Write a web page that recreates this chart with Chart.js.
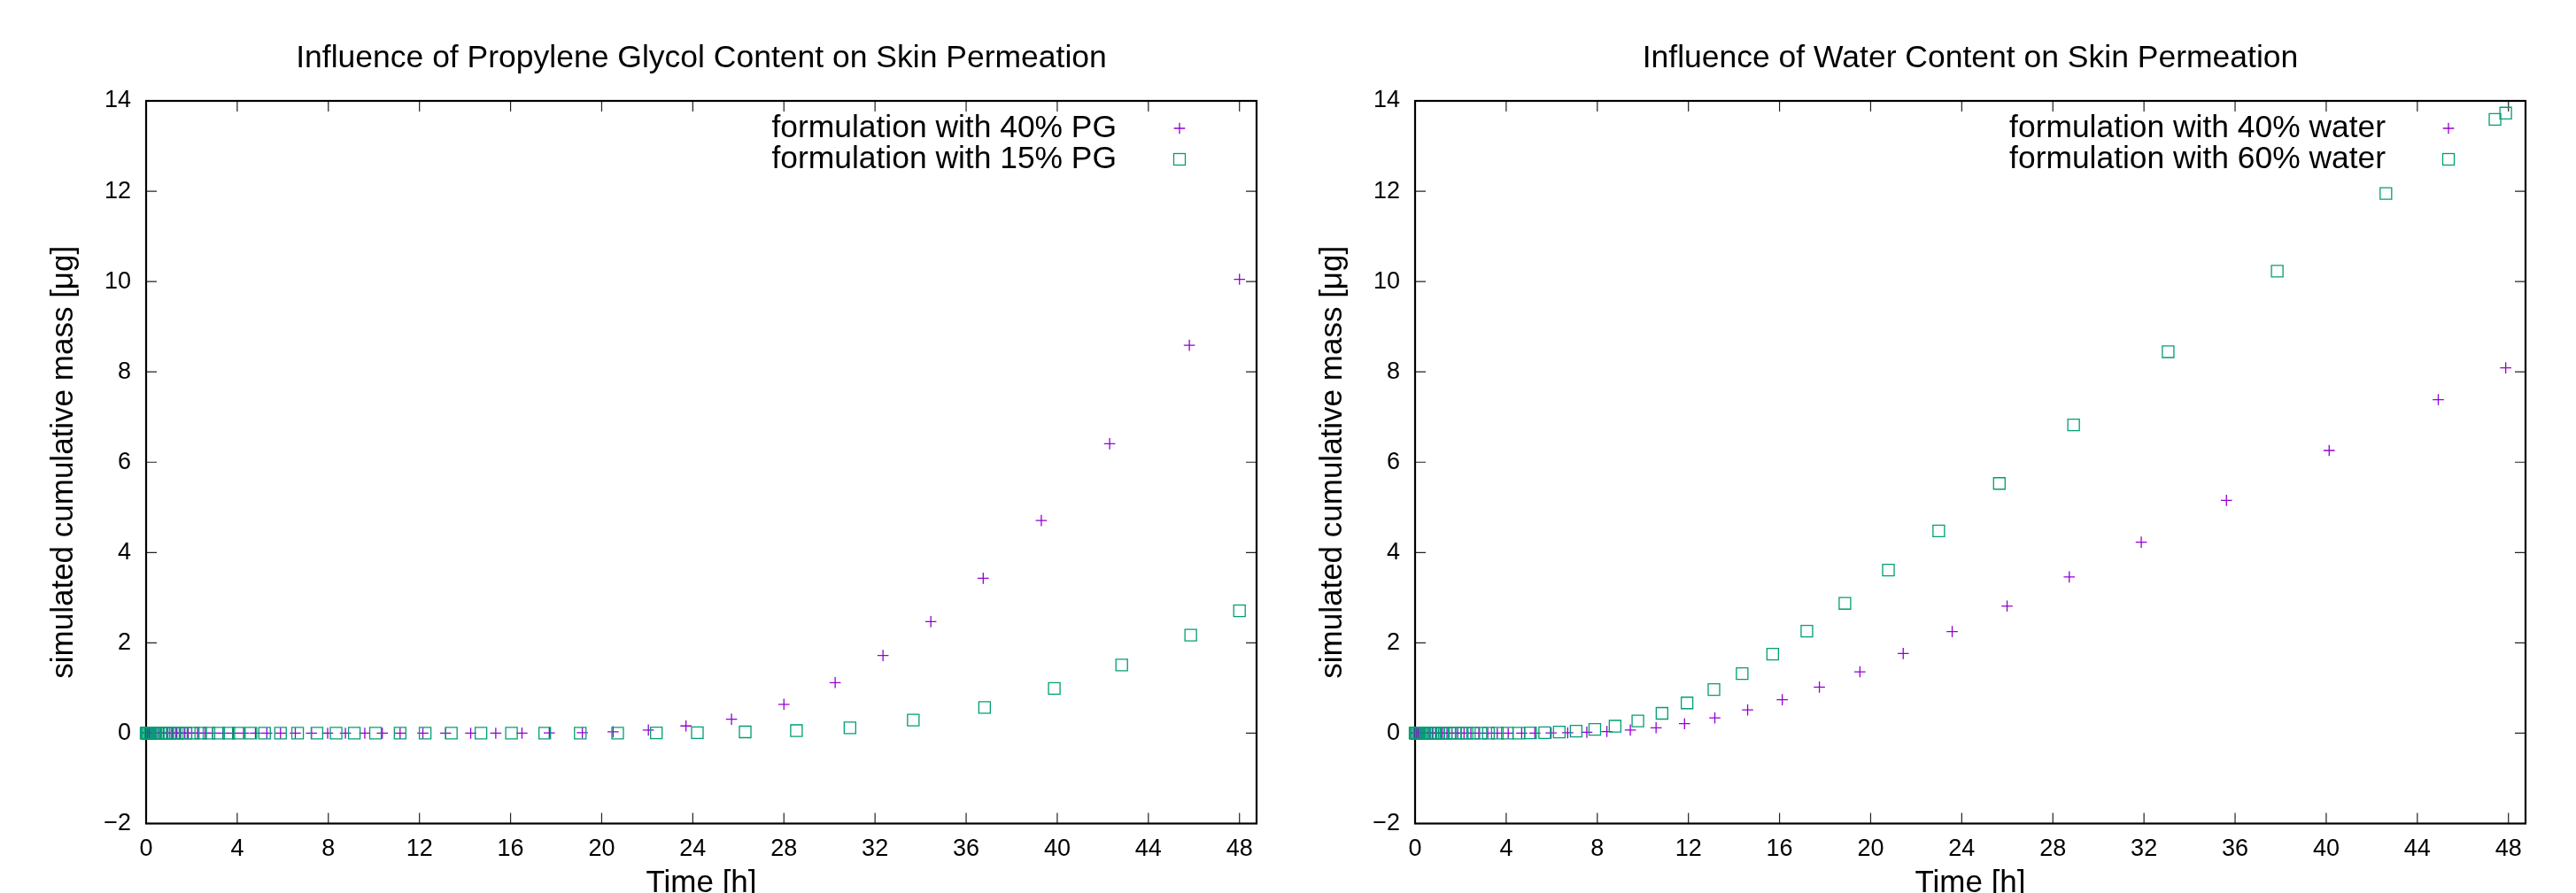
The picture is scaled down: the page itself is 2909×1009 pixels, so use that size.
<!DOCTYPE html>
<html>
<head>
<meta charset="utf-8">
<title>Skin permeation</title>
<script src="https://cdn.jsdelivr.net/npm/chart.js@4.4.0/dist/chart.umd.min.js"></script>
<style>
    html, body { margin: 0; padding: 0; background: #fff; overflow: hidden; width: 2909px; height: 1009px; }
    canvas { position: absolute; top: 0; }
    #chartPG { left: 0; }
    #chartW { left: 1433px; }
</style>
</head>
<body>
<canvas id="chartPG" width="1454" height="1060"></canvas>
<canvas id="chartW" width="1454" height="1060"></canvas>
<script>
// axis ticks
const xTickValues = [0, 4, 8, 12, 16, 20, 24, 28, 32, 36, 40, 44, 48];
const yTickValues = [-2, 0, 2, 4, 6, 8, 10, 12, 14];

// left plot: propylene glycol
const timePG40 = [0, 0.02, 0.05, 0.09, 0.14, 0.2, 0.27, 0.35, 0.44, 0.54, 0.65, 0.77, 0.9, 1.04, 1.19, 1.35, 1.52, 1.7, 1.85,
    2.0, 2.26, 2.59, 2.92, 3.37, 3.82, 4.28, 4.8, 5.3, 5.9, 6.55, 7.26, 7.97, 8.75, 9.6, 10.37, 11.15, 12.15, 13.15, 14.25, 15.35, 16.5, 17.7,
    19.15, 20.5, 22.05, 23.7, 25.7, 28.0, 30.25, 32.35, 34.45, 36.75, 39.3, 42.3, 45.8, 48.0];
const massPG40 = [0, 0, 0, 0, 0, 0, 0, 0, 0, 0, 0, 0, 0, 0, 0, 0, 0, 0, 0,
    0, 0, 0, 0, 0, 0, 0, 0, 0, 0, 0, 0, 0, 0, 0, 0, 0, 0, 0, 0, 0, 0.002, 0.005,
    0.01, 0.03, 0.07, 0.16, 0.31, 0.64, 1.12, 1.72, 2.47, 3.43, 4.71, 6.41, 8.59, 10.05];

const timePG15 = [0, 0.02, 0.05, 0.09, 0.14, 0.2, 0.27, 0.35, 0.44, 0.54, 0.65, 0.77, 0.9, 1.04, 1.2, 1.37, 1.55, 1.75,
    2.07, 2.4, 2.76, 3.18, 3.63, 4.05, 4.6, 5.2, 5.9, 6.65, 7.5, 8.34, 9.14, 10.07, 11.15, 12.25, 13.4, 14.7, 16.04, 17.5, 19.06,
    20.7, 22.4, 24.2, 26.3, 28.55, 30.9, 33.68, 36.81, 39.87, 42.83, 45.86, 48.0];
const massPG15 = [0, 0, 0, 0, 0, 0, 0, 0, 0, 0, 0, 0, 0, 0, 0, 0, 0, 0,
    0, 0, 0, 0, 0, 0, 0, 0, 0, 0, 0, 0, 0, 0, 0, 0, 0, 0, 0, 0, 0,
    0.002, 0.005, 0.012, 0.028, 0.057, 0.12, 0.29, 0.57, 0.99, 1.51, 2.17, 2.71];

// right plot: water
const timeW40 = [0, 0.02, 0.05, 0.09, 0.14, 0.2, 0.27, 0.35, 0.44, 0.54, 0.65, 0.77, 0.9, 1.04, 1.2, 1.4, 1.62,
    1.87, 2.15, 2.45, 2.8, 3.19, 3.61, 4.09, 4.68,
    5.26, 5.97, 6.7, 7.54, 8.42, 9.45, 10.58, 11.83, 13.16, 14.6, 16.12, 17.75, 19.53, 21.43, 23.58, 25.99, 28.72, 31.88, 35.62, 40.13, 44.92, 47.88];
const massW40 = [0, 0, 0, 0, 0, 0, 0, 0, 0, 0, 0, 0, 0, 0, 0, 0, 0,
    0, 0, 0, 0, 0, 0, 0, 0,
    0.002, 0.005, 0.01, 0.02, 0.037, 0.07, 0.12, 0.21, 0.34, 0.515, 0.74, 1.02, 1.36, 1.765, 2.25, 2.815, 3.46, 4.23, 5.155, 6.26, 7.385, 8.09];

const timeW60 = [0, 0.02, 0.05, 0.09, 0.14, 0.2, 0.27, 0.35, 0.44, 0.54, 0.65, 0.77, 0.9, 1.04, 1.2, 1.36,
    1.54, 1.76, 2.02, 2.28, 2.58, 2.89, 3.22, 3.61, 4.05,
    4.55, 5.07, 5.69, 6.33, 7.07, 7.89, 8.78, 9.78, 10.84, 11.94, 13.12, 14.36, 15.7, 17.2, 18.87, 20.78, 22.99, 25.65, 28.91, 33.06, 37.85, 42.62, 47.41, 47.88];
const massW60 = [0, 0, 0, 0, 0, 0, 0, 0, 0, 0, 0, 0, 0, 0, 0, 0,
    0, 0, 0, 0, 0, 0, 0, 0, 0,
    0.002, 0.005, 0.012, 0.025, 0.045, 0.084, 0.155, 0.27, 0.44, 0.67, 0.965, 1.32, 1.75, 2.26, 2.875, 3.61, 4.48, 5.53, 6.825, 8.445, 10.23, 11.95, 13.59, 13.73];

const FONT = '"Liberation Sans", Arial, Helvetica, sans-serif';
const PURPLE = '#9400d3';
const GREEN = '#009e73';
const X_MAX = 48.75;
const TICK = 12;

function toPoints(xs, ys) {
    return xs.map((x, i) => ({ x: x, y: ys[i] }));
}

// gnuplot style border with inward, mirrored tics
const gnuplotFrame = {
    id: 'gnuplotFrame',
    beforeDatasetsDraw(chart) {
        const { ctx, chartArea: a, scales } = chart;
        ctx.save();
        ctx.strokeStyle = '#222';
        ctx.lineWidth = 1.2;
        ctx.beginPath();
        xTickValues.forEach(v => {
            const px = scales.x.getPixelForValue(v);
            ctx.moveTo(px, a.bottom); ctx.lineTo(px, a.bottom - TICK);
            ctx.moveTo(px, a.top); ctx.lineTo(px, a.top + TICK);
        });
        yTickValues.forEach(v => {
            const py = scales.y.getPixelForValue(v);
            ctx.moveTo(a.left, py); ctx.lineTo(a.left + TICK, py);
            ctx.moveTo(a.right, py); ctx.lineTo(a.right - TICK, py);
        });
        ctx.stroke();
        ctx.strokeStyle = '#000';
        ctx.lineWidth = 2.2;
        ctx.strokeRect(a.left, a.top, a.right - a.left, a.bottom - a.top);
        ctx.restore();
    }
};

// key in the top right corner, text first then the marker
const insideKey = {
    id: 'insideKey',
    afterDraw(chart) {
        const { ctx, chartArea: a } = chart;
        ctx.save();
        ctx.font = '35.4px ' + FONT;
        ctx.textAlign = 'right';
        ctx.textBaseline = 'middle';
        chart.data.datasets.forEach((ds, i) => {
            const y = a.top + 31 + i * 35;
            const mx = a.right - 87;
            ctx.fillStyle = '#000';
            ctx.fillText(ds.label, a.right - 158, y);
            ctx.strokeStyle = ds.pointBorderColor;
            ctx.lineWidth = ds.pointBorderWidth;
            ctx.beginPath();
            if (ds.pointStyle === 'cross') {
                const r = ds.pointRadius;
                ctx.moveTo(mx - r, y); ctx.lineTo(mx + r, y);
                ctx.moveTo(mx, y - r); ctx.lineTo(mx, y + r);
                ctx.stroke();
            } else {
                const h = ds.pointRadius * Math.SQRT1_2;
                ctx.strokeRect(mx - h, y - h, 2 * h, 2 * h);
            }
        });
        ctx.restore();
    }
};

function makeChart(canvasId, title, labelA, xsA, ysA, labelB, xsB, ysB) {
    const ctx = document.getElementById(canvasId).getContext('2d');
    return new Chart(ctx, {
        type: 'scatter',
        data: {
            datasets: [{
                label: labelA,
                data: toPoints(xsA, ysA),
                pointStyle: 'cross',
                pointRadius: 6.3,
                pointBorderColor: PURPLE,
                pointBackgroundColor: PURPLE,
                pointBorderWidth: 1.3,
                showLine: false,
                clip: false,
                order: 2
            }, {
                label: labelB,
                data: toPoints(xsB, ysB),
                pointStyle: 'rect',
                pointRadius: 9.2,
                pointBorderColor: GREEN,
                pointBackgroundColor: 'rgba(0,0,0,0)',
                pointBorderWidth: 1.3,
                showLine: false,
                clip: false,
                order: 1
            }]
        },
        options: {
            responsive: false,
            animation: false,
            layout: { padding: { left: 0, right: 35, top: 0, bottom: 0 } },
            plugins: {
                legend: { display: false },
                tooltip: { enabled: false }
            },
            scales: {
                x: {
                    type: 'linear', position: 'bottom', min: 0, max: X_MAX,
                    afterBuildTicks: s => { s.ticks = xTickValues.map(v => ({ value: v })); },
                    afterFit: s => { s.height = 129.5; },
                    grid: { display: false, drawTicks: false },
                    border: { display: false },
                    ticks: { color: '#000', padding: 13, maxRotation: 0, autoSkip: false, font: { family: FONT, size: 27 } },
                    title: { display: true, text: 'Time [h]', color: '#000', font: { family: FONT, size: 35 }, padding: { top: 0, bottom: 41 } }
                },
                // only carries the plot title, centred over the plot like gnuplot does
                top: {
                    type: 'linear', position: 'top', min: 0, max: X_MAX,
                    afterFit: s => { s.height = 114; },
                    grid: { display: false, drawTicks: false },
                    border: { display: false },
                    ticks: { display: false },
                    title: { display: true, text: title, color: '#000', font: { family: FONT, size: 35.5 }, padding: { top: 45, bottom: 0 } }
                },
                y: {
                    type: 'linear', position: 'left', min: -2, max: 14,
                    afterBuildTicks: s => { s.ticks = yTickValues.map(v => ({ value: v })); },
                    afterFit: s => { s.width = 165; },
                    grid: { display: false, drawTicks: false },
                    border: { display: false },
                    ticks: {
                        color: '#000', padding: 17, font: { family: FONT, size: 27 },
                        callback: v => v < 0 ? '\u2212' + Math.abs(v) : String(v)
                    },
                    title: { display: true, text: 'simulated cumulative mass [\u03bcg]', color: '#000', font: { family: FONT, size: 35 }, padding: { top: 51, bottom: 0 } }
                }
            }
        },
        plugins: [gnuplotFrame, insideKey]
    });
}

makeChart('chartPG', 'Influence of Propylene Glycol Content on Skin Permeation',
    'formulation with 40% PG', timePG40, massPG40,
    'formulation with 15% PG', timePG15, massPG15);

makeChart('chartW', 'Influence of Water Content on Skin Permeation',
    'formulation with 40% water', timeW40, massW40,
    'formulation with 60% water', timeW60, massW60);
</script>
</body>
</html>
